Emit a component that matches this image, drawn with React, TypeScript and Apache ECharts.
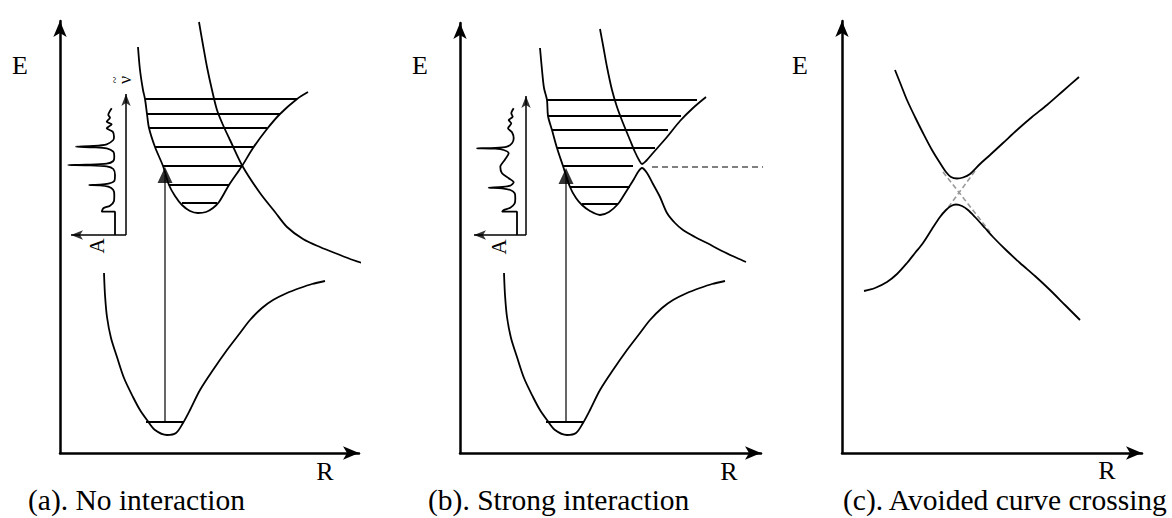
import React, { useEffect, useRef } from 'react';
import * as echarts from 'echarts';

// ---------- Panel (a): No interaction (R, E in axis units from the origin) ----------
const excitedBoundA: number[][] = [
  [78, 406], [80, 383], [83, 363], [85, 354], [87, 339], [89, 325], [95, 306], [103, 287], [109, 268],
  [115, 257], [122, 248], [130, 242], [138, 240], [146, 241], [153, 245], [159, 251], [169, 268],
  [182, 287], [193, 305], [207, 324], [220, 339], [237, 354], [248, 361],
];
const repulsiveA: number[][] = [
  [139, 431], [143, 408], [147, 386], [152, 363], [157, 343], [163, 328], [170, 313], [183, 286],
  [200, 260], [215, 241], [227, 226], [243, 214], [260, 206], [280, 198], [293, 193], [302, 190],
];
const levelsA_E = [354, 339, 325, 306, 287, 268, 250];
const levelsA_left = [85, 87, 89, 95, 103, 109, 122];
const levelsA_right = [237, 220, 207, 193, 182, 169, 157];

// Ground state, shared by (a) and (b)
const groundState: number[][] = [
  [44, 180], [45, 158], [47, 136], [51, 115], [57, 96], [64, 75], [73, 56], [80, 43], [87, 33],
  [95, 23], [107, 18], [116, 20], [123, 30], [130, 43], [140, 63], [153, 83], [167, 103], [180, 120],
  [190, 133], [202, 145], [213, 153], [227, 160], [240, 165], [252, 169], [265, 172],
];
const groundLevelE = 31;
const groundLevelLeft = 86;
const groundLevelRight = 124;

// Vertical transitions: [R, E start, E tip]
const transitionA = [105, 31, 286];
const transitionB = [106, 31, 285];

// Spectrum insets: [A, wavenumber]
const spectrumA: number[][] = [
  [14.3, 126.7], [17.7, 120], [16, 117.3], [19.3, 113.3], [14.3, 110.7], [19.3, 106.7], [13.3, 103.3],
  [12, 98.3], [12.7, 95], [19.3, 90.7], [32.7, 89], [50, 88.3], [32.7, 87.7], [19.3, 86.7], [12.7, 83.3],
  [11.7, 78.3], [12.7, 74], [19.3, 71.3], [39.3, 70.3], [57.7, 70], [39.3, 69.7], [19.3, 68.7], [12.7, 66],
  [11, 60], [11.7, 54], [17.7, 51.3], [26, 50.3], [36.7, 50], [26, 49.7], [17.7, 48.3], [12.7, 45],
  [11.7, 40], [12, 34], [16, 29.3], [22.7, 26.7], [24.3, 23.3], [11, 23.3], [11, 0],
];
const spectrumB: number[][] = [
  [12.3, 126.7], [14.7, 121.7], [13.3, 118.3], [17.3, 115], [14.7, 111.7], [18, 106.7], [14, 102.7],
  [12.3, 96.7], [14, 91.7], [19, 88.3], [30.7, 87], [49, 86.7], [30.7, 86.3], [22.3, 85], [17.3, 81.7],
  [21.3, 75], [25.7, 68.3], [24, 61.7], [17.3, 56.7], [12.3, 52.7], [15.7, 49.3], [24, 48], [37.3, 47.3],
  [24, 46.7], [15.7, 45], [11.3, 41.7], [10.7, 36.7], [11.3, 31.7], [15.7, 27.3], [22.3, 25], [24, 23.3],
  [9, 23.3], [9, 0],
];

// ---------- Panel (b): Strong interaction ----------
const lowerAdiabaticB: number[][] = [
  [80, 405], [82, 383], [84, 365], [87, 353], [88, 337], [92, 323], [97, 305], [103, 287], [110, 266],
  [116, 255], [122, 248], [130, 242], [140, 238], [149, 241], [158, 249], [164, 258], [169, 266],
  [174, 274], [178, 281], [182, 285], [187, 280], [193, 269], [200, 256], [207, 240], [215, 230],
  [223, 223], [235, 216], [247, 210], [262, 202], [277, 195], [286, 191],
];
const upperAdiabaticB: number[][] = [
  [140, 424], [143, 408], [147, 386], [152, 363], [157, 346], [163, 330], [170, 313], [175, 301],
  [179, 293], [182, 289], [186, 292], [193, 300], [200, 308], [207, 316], [220, 332], [233, 345], [246, 356],
];
const levelsB_E = [353, 337, 323, 305, 287, 266, 249];
const levelsB_left = [87, 88, 92, 97, 103, 110, 122];
const levelsB_right = [237, 221, 208, 195, 173, 170, 158];
const dissociationB: number[][] = [[192, 286], [310, 286]];

// ---------- Panel (c): Avoided curve crossing ----------
const upperC: number[][] = [
  [53, 383], [59, 368], [65, 353], [73, 336], [81, 320], [90, 303], [98, 290], [104, 281], [109, 276],
  [115, 274.5], [121, 275.5], [128, 279], [138, 289], [148, 298], [161, 310], [175, 323], [190, 336],
  [205, 348], [221, 362], [237, 376],
];
const lowerC: number[][] = [
  [22, 162], [33, 165], [45, 171], [55, 179], [65, 190], [73, 200], [81, 210], [90, 224], [98, 236],
  [104, 243], [109, 247], [114, 248.5], [120, 247], [126, 243], [133, 236], [143, 225], [151, 216],
  [164, 203], [178, 190], [193, 177], [208, 163], [223, 148], [238, 133],
];
const diabatic1C: number[][] = [[101, 281], [148, 221]];
const diabatic2C: number[][] = [[133, 282], [105, 244]];

// ---------- Layout ----------
const PANELS = [
  { ox: 60, oy: 453, w: 299, h: 432 },
  { ox: 460, oy: 453, w: 301, h: 430 },
  { ox: 842, oy: 453, w: 300, h: 432 },
];
const INSETS = [
  { left: 65, top: 88, w: 61, h: 147 },
  { left: 468, top: 90, w: 58, h: 145 },
];
const FONT = 'Liberation Serif';

function buildOption() {
  const grids: any[] = [];
  const xAxes: any[] = [];
  const yAxes: any[] = [];
  PANELS.forEach((p, i) => {
    grids.push({ left: p.ox, top: p.oy - p.h, width: p.w, height: p.h, containLabel: false, outerBoundsMode: 'none' });
    const axisLine = {
      show: true, onZero: false, symbol: ['none', 'arrow'], symbolSize: [10, 16],
      lineStyle: { color: '#000', width: 2.5 },
    };
    xAxes.push({ gridIndex: i, type: 'value', min: 0, max: p.w, axisLine, axisTick: { show: false }, axisLabel: { show: false }, splitLine: { show: false } });
    yAxes.push({ gridIndex: i, type: 'value', min: 0, max: p.h, axisLine, axisTick: { show: false }, axisLabel: { show: false }, splitLine: { show: false } });
  });
  INSETS.forEach((s, j) => {
    const gi = 3 + j;
    grids.push({ left: s.left, top: s.top, width: s.w, height: s.h, containLabel: false, outerBoundsMode: 'none' });
    xAxes.push({ gridIndex: gi, type: 'value', inverse: true, min: 0, max: s.w, show: false });
    yAxes.push({ gridIndex: gi, type: 'value', min: 0, max: s.h, show: false });
  });

  const series: any[] = [];
  const line = (gi: number, data: number[][], extra: any = {}) => {
    series.push({
      type: 'line', xAxisIndex: gi, yAxisIndex: gi, data, symbol: 'none', showSymbol: false,
      smooth: 0.3, clip: false, silent: true,
      lineStyle: { color: '#000', width: 1.8 },
      ...extra,
    });
  };
  const head = (gi: number, pt: number[], symbol: string, size: number[], rotate = 0) => {
    series.push({
      type: 'scatter', xAxisIndex: gi, yAxisIndex: gi, data: [pt], symbol, symbolSize: size,
      symbolRotate: rotate, clip: false, silent: true, itemStyle: { color: '#000' },
    });
  };

  // Panel a
  line(0, excitedBoundA);
  line(0, repulsiveA);
  levelsA_E.forEach((e, k) => line(0, [[levelsA_left[k], e], [levelsA_right[k], e]], { smooth: false }));
  line(0, groundState);
  line(0, [[groundLevelLeft, groundLevelE], [groundLevelRight, groundLevelE]], { smooth: false });
  line(0, [[transitionA[0], transitionA[1]], [transitionA[0], transitionA[2] - 8]], { smooth: false, lineStyle: { color: '#000', width: 1.2 } });
  head(0, [transitionA[0], transitionA[2] - 8], 'triangle', [15, 16]);

  // Panel b
  line(1, lowerAdiabaticB);
  line(1, upperAdiabaticB);
  levelsB_E.forEach((e, k) => line(1, [[levelsB_left[k], e], [levelsB_right[k], e]], { smooth: false }));
  line(1, dissociationB, { smooth: false, lineStyle: { color: '#555', width: 1.5, type: [6, 4] } });
  line(1, groundState);
  line(1, [[groundLevelLeft, groundLevelE], [groundLevelRight, groundLevelE]], { smooth: false });
  line(1, [[transitionB[0], transitionB[1]], [transitionB[0], transitionB[2] - 8]], { smooth: false, lineStyle: { color: '#000', width: 1.2 } });
  head(1, [transitionB[0], transitionB[2] - 8], 'triangle', [15, 16]);

  // Panel c
  line(2, diabatic1C, { smooth: false, lineStyle: { color: '#999', width: 1.6, type: [5, 3] } });
  line(2, diabatic2C, { smooth: false, lineStyle: { color: '#999', width: 1.6, type: [5, 3] } });
  line(2, upperC);
  line(2, lowerC);

  // Insets
  INSETS.forEach((s, j) => {
    const gi = 3 + j;
    line(gi, [[0, 0], [0, s.h - 6]], { smooth: false, lineStyle: { color: '#000', width: 1.5 } });
    line(gi, [[0, 0], [s.w - 6, 0]], { smooth: false, lineStyle: { color: '#000', width: 1.5 } });
    head(gi, [0, s.h - 6], 'arrow', [7, 12], 0);
    head(gi, [s.w - 6, 0], 'arrow', [7, 12], 90);
  });
  line(3, spectrumA, { smooth: 0.25 });
  line(4, spectrumB, { smooth: 0.25 });

  const txt = (x: number, y: number, text: string, size: number, align = 'center', rotation = 0) => ({
    type: 'text', x, y, silent: true, rotation,
    style: { text, fill: '#000', fontSize: size, fontFamily: FONT, align, verticalAlign: 'middle' },
  });

  const graphic = [
    txt(20, 65, 'E', 26),
    txt(420, 65, 'E', 26),
    txt(800, 65, 'E', 26),
    txt(325, 471, 'R', 26),
    txt(729, 471, 'R', 26),
    txt(1107, 470, 'R', 26),
    txt(97, 246, 'A', 21, 'center', Math.PI / 2),
    txt(499, 247, 'A', 21, 'center', Math.PI / 2),
    txt(125, 80, '\u03BD', 18, 'center', Math.PI / 2),
    txt(115, 80, '~', 12, 'center', Math.PI / 2),
    txt(28, 500, '(a). No interaction', 29.5, 'left'),
    txt(428, 500, '(b). Strong interaction', 29.5, 'left'),
    txt(843, 500, '(c). Avoided curve crossing', 29.5, 'left'),
  ];

  return {
    animation: false,
    backgroundColor: '#fff',
    grid: grids,
    xAxis: xAxes,
    yAxis: yAxes,
    series,
    graphic,
  };
}

export default function App() {
  const ref = useRef<HTMLDivElement>(null);
  useEffect(() => {
    document.body.style.margin = '0';
    const chart = echarts.init(ref.current!, null, { renderer: 'svg' });
    chart.setOption(buildOption() as any);
    return () => chart.dispose();
  }, []);
  return <div ref={ref} style={{ width: 1172, height: 518 }} />;
}
